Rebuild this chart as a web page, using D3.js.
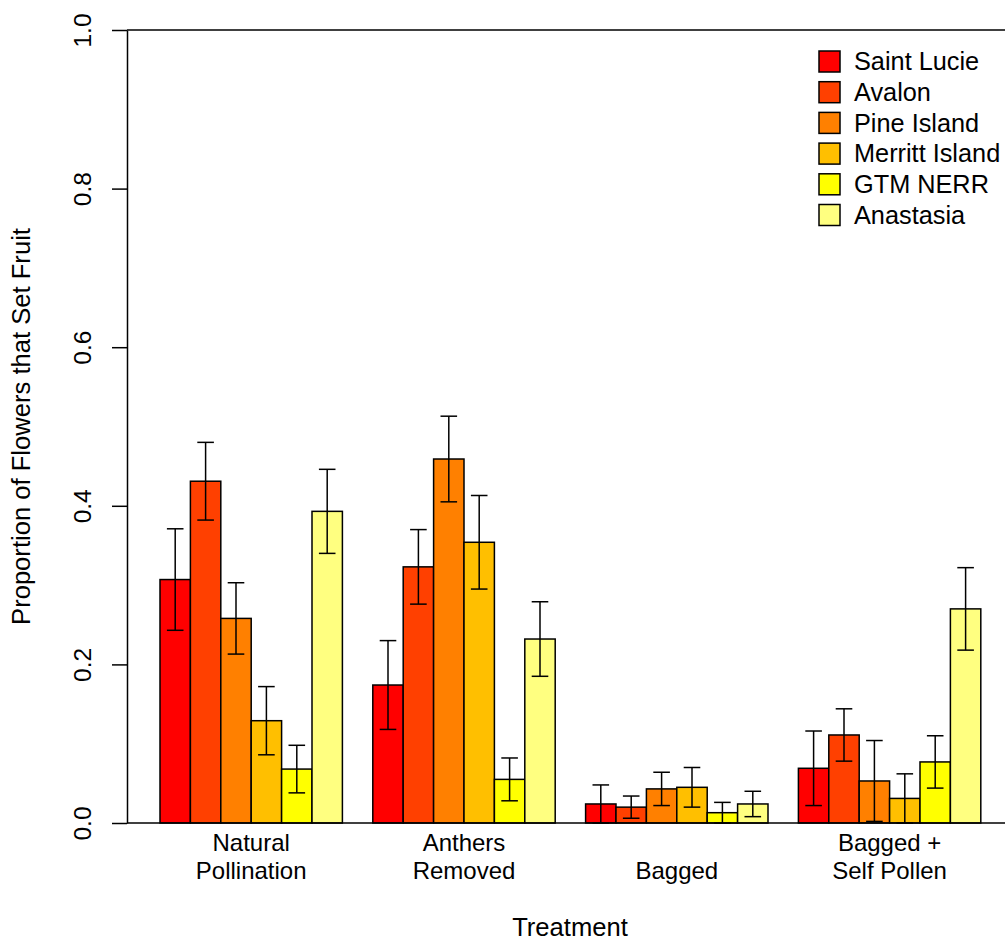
<!DOCTYPE html>
<html>
<head>
<meta charset="utf-8">
<script src="https://cdn.jsdelivr.net/npm/d3@7"></script>
<style>
  html, body { margin: 0; padding: 0; background: #ffffff; }
  svg { display: block; font-family: "Liberation Sans", Arial, Helvetica, sans-serif; }
</style>
</head>
<body>
<svg id="chart" width="1005" height="941"></svg>
<script>
// Fruit set by pollination treatment and site
const treatments = ["Natural Pollination", "Anthers Removed", "Bagged", "Bagged + Self Pollen"];
const treatmentLines = [["Natural", "Pollination"], ["Anthers", "Removed"], ["Bagged"], ["Bagged +", "Self Pollen"]];
const sites = ["Saint Lucie", "Avalon", "Pine Island", "Merritt Island", "GTM NERR", "Anastasia"];
const siteColors = ["#FF0000", "#FF4000", "#FF8000", "#FFBF00", "#FFFF00", "#FFFF80"];

// mean proportion of flowers setting fruit, one array per treatment (sites in order)
const naturalMean  = [0.307, 0.431, 0.258, 0.129, 0.068, 0.393];
const anthersMean  = [0.174, 0.323, 0.459, 0.354, 0.055, 0.232];
const baggedMean   = [0.024, 0.020, 0.043, 0.045, 0.013, 0.024];
const selfMean     = [0.069, 0.111, 0.053, 0.031, 0.077, 0.270];

// standard errors
const naturalSE = [0.064, 0.049, 0.045, 0.043, 0.030, 0.053];
const anthersSE = [0.056, 0.047, 0.054, 0.059, 0.027, 0.047];
const baggedSE  = [0.024, 0.014, 0.021, 0.025, 0.013, 0.016];
const selfSE    = [0.047, 0.033, 0.051, 0.031, 0.033, 0.052];

const yTicks = [0, 0.2, 0.4, 0.6, 0.8, 1.0];

const means = [naturalMean, anthersMean, baggedMean, selfMean];
const ses = [naturalSE, anthersSE, baggedSE, selfSE];

const rows = [];
treatments.forEach((t, i) => {
  sites.forEach((s, j) => {
    rows.push({ treatment: t, site: s, color: siteColors[j], mean: means[i][j], se: ses[i][j] });
  });
});

const svg = d3.select("#chart");
const W = 1005;
const plot = { left: 127, top: 30, bottom: 823 };

const y = d3.scaleLinear().domain([0, 1]).range([plot.bottom, plot.top]);

// bar unit = one bar width; one empty unit between groups
const unit = 30.4;
const x0 = d3.scaleBand()
  .domain(treatments)
  .range([160 - 0.5 * unit, 160 + 27 * unit + 0.5 * unit])
  .paddingInner(1 / 7)
  .paddingOuter(1 / 14);
const x1 = d3.scaleBand().domain(sites).range([0, x0.bandwidth()]).padding(0);

// bars
svg.append("g")
  .selectAll("rect")
  .data(rows)
  .join("rect")
  .attr("x", d => x0(d.treatment) + x1(d.site))
  .attr("y", d => y(d.mean))
  .attr("width", x1.bandwidth())
  .attr("height", d => y(0) - y(d.mean))
  .attr("fill", d => d.color)
  .attr("stroke", "#000")
  .attr("stroke-width", 1.5);

// error bars
const capHalf = 8.3;
const eb = svg.append("g")
  .attr("stroke", "#000")
  .attr("stroke-width", 1.5)
  .selectAll("g")
  .data(rows)
  .join("g")
  .attr("transform", d => `translate(${x0(d.treatment) + x1(d.site) + x1.bandwidth() / 2},0)`);
eb.append("line")
  .attr("y1", d => y(d.mean + d.se))
  .attr("y2", d => y(Math.max(0, d.mean - d.se)));
eb.append("line")
  .attr("x1", -capHalf).attr("x2", capHalf)
  .attr("y1", d => y(d.mean + d.se)).attr("y2", d => y(d.mean + d.se));
eb.append("line")
  .attr("x1", -capHalf).attr("x2", capHalf)
  .attr("y1", d => y(Math.max(0, d.mean - d.se))).attr("y2", d => y(Math.max(0, d.mean - d.se)));

// baseline and top border
svg.append("line")
  .attr("x1", plot.left).attr("x2", W)
  .attr("y1", y(0)).attr("y2", y(0))
  .attr("stroke", "#000").attr("stroke-width", 1.5);
svg.append("line")
  .attr("x1", plot.left).attr("x2", W)
  .attr("y1", y(1)).attr("y2", y(1))
  .attr("stroke", "#000").attr("stroke-width", 1.5);

// y axis
const yAxis = svg.append("g")
  .attr("transform", `translate(${plot.left},0)`)
  .call(d3.axisLeft(y).tickValues(yTicks).tickFormat(d3.format(".1f")).tickSize(15).tickSizeOuter(0));
yAxis.select(".domain").attr("stroke", "#000").attr("stroke-width", 1.5);
yAxis.selectAll(".tick line").attr("stroke", "#000").attr("stroke-width", 1.5);
yAxis.selectAll(".tick text")
  .attr("transform", "rotate(-90)")
  .attr("x", 0)
  .attr("y", -36.5)
  .attr("dy", 0)
  .attr("text-anchor", "middle")
  .attr("fill", "#000")
  .style("font-size", "24.5px")
  .style("font-family", "'Liberation Sans', Arial, Helvetica, sans-serif");

// y axis title
svg.append("text")
  .attr("transform", `translate(30,${(plot.top + plot.bottom) / 2}) rotate(-90)`)
  .attr("text-anchor", "middle")
  .style("font-size", "25.6px")
  .attr("fill", "#000")
  .text("Proportion of Flowers that Set Fruit");

// category labels, bottom-aligned lines
const lineBase = 879, lineGap = 28;
treatments.forEach((t, i) => {
  const lines = treatmentLines[i];
  const cx = x0(t) + x0.bandwidth() / 2;
  lines.forEach((ln, k) => {
    svg.append("text")
      .attr("x", cx)
      .attr("y", lineBase - (lines.length - 1 - k) * lineGap)
      .attr("text-anchor", "middle")
      .style("font-size", "24px")
      .attr("fill", "#000")
      .text(ln);
  });
});

// x axis title
svg.append("text")
  .attr("x", 570)
  .attr("y", 936)
  .attr("text-anchor", "middle")
  .style("font-size", "25.6px")
  .attr("fill", "#000")
  .text("Treatment");

// legend
const legend = svg.append("g");
const legRows = legend.selectAll("g")
  .data(sites)
  .join("g")
  .attr("transform", (d, i) => `translate(819,${61.5 + i * 30.7})`);
legRows.append("rect")
  .attr("x", 0).attr("y", -10.5)
  .attr("width", 21).attr("height", 21)
  .attr("fill", (d, i) => siteColors[i])
  .attr("stroke", "#000").attr("stroke-width", 1.5);
legRows.append("text")
  .attr("x", 35).attr("y", 8.6)
  .style("font-size", "25.3px")
  .attr("fill", "#000")
  .text(d => d);
</script>
</body>
</html>
